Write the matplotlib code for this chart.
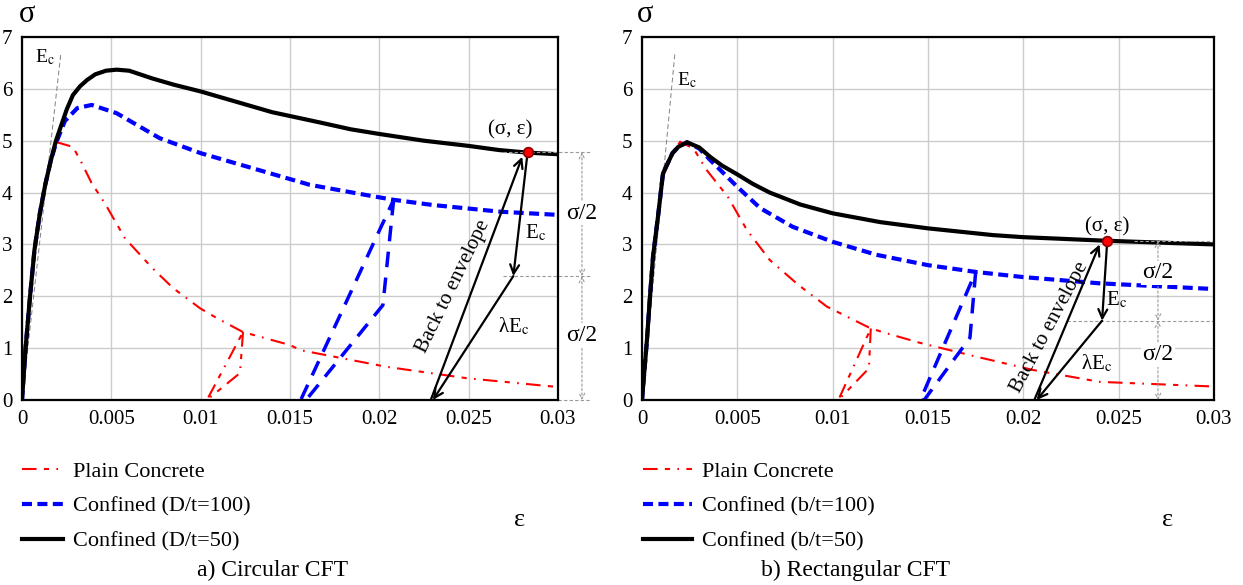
import matplotlib.pyplot as plt
import numpy as np

plt.rcParams['font.family'] = ['Liberation Serif', 'DejaVu Serif']
plt.rcParams['mathtext.fontset'] = 'stix'

W, H = 1243, 585

x_ticks = [0, 0.005, 0.01, 0.015, 0.02, 0.025, 0.03]
x_ticklabels = ['0', '0.005', '0.01', '0.015', '0.02', '0.025', '0.03']
y_ticks = [0, 1, 2, 3, 4, 5, 6, 7]

# ---- a) circular CFT ----
a_plain_eps = [0, 0.0002, 0.00045, 0.0007, 0.0010, 0.0013, 0.0016, 0.00196, 0.00285, 0.0033,
               0.0039, 0.0044, 0.00476, 0.00576, 0.00728, 0.00845, 0.00996, 0.0109, 0.01237,
               0.0150, 0.0156, 0.0204, 0.0249, 0.0300]
a_plain_sig = [0, 1.0, 2.0, 2.9, 3.6, 4.15, 4.6, 4.97, 4.88, 4.6,
               4.18, 3.92, 3.72, 3.12, 2.55, 2.16, 1.77, 1.58, 1.31,
               1.06, 0.96, 0.64, 0.42, 0.25]
a_plain_loop_eps = [0.01237, 0.0122, 0.01035, 0.01237]
a_plain_loop_sig = [1.31, 0.52, 0, 1.31]

a_d100_eps = [0, 0.0002, 0.00045, 0.0007, 0.0010, 0.0013, 0.0016, 0.0019, 0.0024, 0.0031,
              0.0039, 0.0053, 0.0077, 0.0100, 0.0129, 0.0161, 0.0193,
              0.0208, 0.0230, 0.0268, 0.0300]
a_d100_sig = [0, 1.0, 2.0, 2.9, 3.6, 4.15, 4.6, 4.95, 5.38, 5.63,
              5.69, 5.53, 5.05, 4.76, 4.47, 4.15, 3.95,
              3.86, 3.76, 3.63, 3.57]
a_d100_loop_eps = [0.0208, 0.0202, 0.0159, 0.0156, 0.0208]
a_d100_loop_sig = [3.86, 1.83, 0, 0, 3.86]

a_d50_eps = [0, 0.0002, 0.00045, 0.0007, 0.0010, 0.0013, 0.0016, 0.0019, 0.0022, 0.0025,
             0.00285, 0.00325, 0.00364, 0.0041, 0.0047, 0.0053, 0.0060, 0.0073, 0.0085,
             0.0100, 0.0120, 0.0140, 0.0167, 0.0184, 0.0200, 0.0225, 0.0250, 0.0267,
             0.0283, 0.0300]
a_d50_sig = [0, 1.0, 2.0, 2.9, 3.6, 4.15, 4.6, 5.0, 5.3, 5.6,
             5.88, 6.05, 6.17, 6.28, 6.35, 6.37, 6.35, 6.2, 6.08,
             5.95, 5.75, 5.55, 5.35, 5.22, 5.13, 5.0, 4.9, 4.82,
             4.77, 4.74]

a_ec_eps = [0, 0.00218]
a_ec_sig = [0, 6.7]

# ---- b) rectangular CFT ----
b_plain_eps = [0, 0.00026, 0.00042, 0.00058, 0.00084, 0.0011, 0.0016, 0.0020, 0.0027, 0.0034,
               0.0045, 0.0055, 0.0067, 0.0082, 0.0097, 0.0120, 0.0128, 0.0146, 0.0176,
               0.0205, 0.0240, 0.0300]
b_plain_sig = [0, 1.16, 2.0, 2.77, 3.54, 4.3, 4.75, 4.98, 4.85, 4.43,
               3.92, 3.28, 2.7, 2.22, 1.8, 1.38, 1.29, 1.1, 0.83,
               0.58, 0.35, 0.26]
b_plain_loop_eps = [0.0120, 0.0119, 0.0103, 0.0120]
b_plain_loop_sig = [1.38, 0.61, 0, 1.38]

b_b100_eps = [0, 0.00026, 0.00042, 0.00058, 0.00084, 0.0011, 0.0016, 0.0019, 0.00236, 0.0030,
              0.00357, 0.0050, 0.0062, 0.0079, 0.0100, 0.0123, 0.0150, 0.0175, 0.0200,
              0.0240, 0.0300]
b_b100_sig = [0, 1.16, 2.0, 2.77, 3.54, 4.37, 4.76, 4.88, 4.97, 4.85,
              4.63, 4.11, 3.7, 3.34, 3.05, 2.8, 2.6, 2.47, 2.37,
              2.25, 2.14]
b_b100_loop_eps = [0.0175, 0.0172, 0.0148, 0.0146, 0.0175]
b_b100_loop_sig = [2.47, 1.2, 0, 0, 2.47]

b_b50_eps = [0, 0.00026, 0.00042, 0.00058, 0.00084, 0.0011, 0.0016, 0.0019, 0.00236, 0.0030,
             0.00357, 0.0042, 0.0050, 0.0058, 0.0067, 0.0083, 0.0100, 0.0125, 0.0150,
             0.0184, 0.0200, 0.0219, 0.0244, 0.0300]
b_b50_sig = [0, 1.16, 2.0, 2.77, 3.54, 4.37, 4.76, 4.88, 4.97, 4.87,
             4.69, 4.52, 4.35, 4.17, 4.0, 3.77, 3.6, 3.43, 3.31,
             3.18, 3.14, 3.11, 3.07, 3.0]

b_ec_eps = [0, 0.00173]
b_ec_sig = [0, 6.7]

# cyclic path (stress point, half stress, zero, back-to-envelope top)
a_point = (0.0283, 4.78)
a_half = (0.0275, 2.39)
a_zero = (0.0230, 0.0)
a_back = (0.0280, 4.69)
b_point = (0.0244, 3.07)
b_half = (0.02413, 1.53)
b_zero = (0.0207, 0.0)
b_back = (0.0240, 3.0)

red_style = dict(color='red', lw=1.5, dashes=(7, 3.5, 2.5, 3.5, 0.8, 3.5))
blue_style = dict(color='blue', lw=3, dashes=(2.4, 1.3))
blue_loop_style = dict(color='blue', lw=2.5, dashes=(4.5, 3))
black_style = dict(color='black', lw=3)


def arrow(ax, start, end):
    ax.annotate('', xy=end, xytext=start, annotation_clip=False,
                arrowprops=dict(arrowstyle='->', color='black', lw=1.6,
                                shrinkA=0, shrinkB=0, mutation_scale=16))


def dim_arrow(ax, x, y0, y1):
    ax.annotate('', xy=(x, y1), xytext=(x, y0), annotation_clip=False,
                arrowprops=dict(arrowstyle='<->', color='#999999', lw=0.8, ls=(0, (2, 2)),
                                shrinkA=0, shrinkB=0, mutation_scale=10))


def panel(ax, plain, plain_loop, mid, mid_loop, strong, ec, ec_lbl,
          pt, half, zero, back, labels, txt_pos, hlines, xdim, sig_pos):
    ax.plot(ec[0], ec[1], color='gray', lw=0.7, ls=(0, (5, 3)), clip_on=False)
    ax.text(ec_lbl[0], ec_lbl[1], r'E$_\mathrm{c}$', fontsize=14, ha='left', va='center')
    ax.plot(plain[0], plain[1], **red_style)
    ax.plot(plain_loop[0], plain_loop[1], **red_style)
    ax.plot(mid[0], mid[1], **blue_style)
    ax.plot(mid_loop[0], mid_loop[1], **blue_loop_style)
    ax.plot(strong[0], strong[1], **black_style)

    # legend handles
    h1, = ax.plot([], [], **red_style)
    h2, = ax.plot([], [], **blue_style)
    h3, = ax.plot([], [], **black_style)

    # dimension lines
    for xs, y in hlines:
        ax.plot(xs, [y, y], color='#999999', lw=0.8, ls=(0, (3, 2)), clip_on=False)
    dim_arrow(ax, xdim, pt[1], half[1])
    dim_arrow(ax, xdim, half[1], 0)
    for y in sig_pos:
        ax.text(xdim, y, 'σ/2', fontsize=17, ha='center', va='center',
                bbox=dict(fc='white', ec='none', pad=1))

    arrow(ax, pt, half)
    arrow(ax, half, zero)
    arrow(ax, (zero[0] - 0.0001, zero[1] + 0.02), back)
    ax.plot(pt[0], pt[1], 'o', color='red', mec='#8b0000', ms=7, mew=1.2, zorder=5)

    ax.text(txt_pos[0][0], txt_pos[0][1], '(σ, ε)', fontsize=15, ha='center', va='center')
    ax.text(txt_pos[1][0], txt_pos[1][1], r'E$_\mathrm{c}$', fontsize=15, ha='center', va='center')
    ax.text(txt_pos[2][0], txt_pos[2][1], r'λE$_\mathrm{c}$', fontsize=15, ha='center', va='center')
    ax.text(txt_pos[3][0], txt_pos[3][1], 'Back to envelope', fontsize=15, ha='center',
            va='center', rotation=txt_pos[3][2], rotation_mode='anchor')

    ax.set_xlim(0, 0.03)
    ax.set_ylim(0, 7)
    ax.set_xticks(x_ticks)
    ax.set_xticklabels(x_ticklabels)
    ax.set_yticks(y_ticks)
    ax.grid(True, color='#cccccc', lw=1)
    ax.set_axisbelow(True)
    ax.tick_params(length=0, pad=7, labelsize=15)
    for s in ax.spines.values():
        s.set_linewidth(1.6)
    return [h1, h2, h3], labels


fig = plt.figure(figsize=(W / 100, H / 100), dpi=100)
ax1 = fig.add_axes([22 / W, 1 - 400 / H, 536 / W, 363 / H])
ax2 = fig.add_axes([642 / W, 1 - 400 / H, 572 / W, 363 / H])

hs, labs = panel(ax1, (a_plain_eps, a_plain_sig), (a_plain_loop_eps, a_plain_loop_sig),
                 (a_d100_eps, a_d100_sig), (a_d100_loop_eps, a_d100_loop_sig),
                 (a_d50_eps, a_d50_sig), (a_ec_eps, a_ec_sig), (0.00073, 6.61),
                 a_point, a_half, a_zero, a_back,
                 ['Plain Concrete', 'Confined (D/t=100)', 'Confined (D/t=50)'],
                 [(0.0273, 5.2), (0.02877, 3.22), (0.02754, 1.41), (0.02412, 2.18, 64)],
                 [([0.0269, 0.0318], a_point[1]), ([0.0269, 0.0318], a_half[1]), ([0.0300, 0.0318], 0)],
                 0.03134, [3.6, 1.25])
ax1.legend(hs, labs, loc='upper left', bbox_to_anchor=(22 / W, 1 - 461 / H),
           bbox_transform=fig.transFigure, frameon=False, borderpad=0, borderaxespad=0,
           handlelength=1.85, handletextpad=0.45, labelspacing=0.65, fontsize=16)

hs, labs = panel(ax2, (b_plain_eps, b_plain_sig), (b_plain_loop_eps, b_plain_loop_sig),
                 (b_b100_eps, b_b100_sig), (b_b100_loop_eps, b_b100_loop_sig),
                 (b_b50_eps, b_b50_sig), (b_ec_eps, b_ec_sig), (0.00184, 6.17),
                 b_point, b_half, b_zero, b_back,
                 ['Plain Concrete', 'Confined (b/t=100)', 'Confined (b/t=50)'],
                 [(0.0244, 3.34), (0.0249, 1.93), (0.02386, 0.71), (0.0214, 1.41, 62)],
                 [([0.0258, 0.0300], b_point[1]), ([0.0223, 0.0300], b_half[1])],
                 0.02706, [2.45, 0.87])
ax2.legend(hs, labs, loc='upper left', bbox_to_anchor=(643 / W, 1 - 461 / H),
           bbox_transform=fig.transFigure, frameon=False, borderpad=0, borderaxespad=0,
           handlelength=2.2, handletextpad=0.45, labelspacing=0.65, fontsize=16)

fig.text(27 / W, 1 - 15 / H, 'σ', fontsize=22, ha='center', va='center')
fig.text(645 / W, 1 - 15 / H, 'σ', fontsize=22, ha='center', va='center')
fig.text(520 / W, 1 - 520 / H, 'ε', fontsize=19, ha='center', va='center')
fig.text(1168 / W, 1 - 520 / H, 'ε', fontsize=19, ha='center', va='center')
fig.text(273 / W, 1 - 570 / H, 'a) Circular CFT', fontsize=17, ha='center', va='center')
fig.text(856 / W, 1 - 570 / H, 'b) Rectangular CFT', fontsize=17, ha='center', va='center')

fig.savefig('out.png', dpi=100)
